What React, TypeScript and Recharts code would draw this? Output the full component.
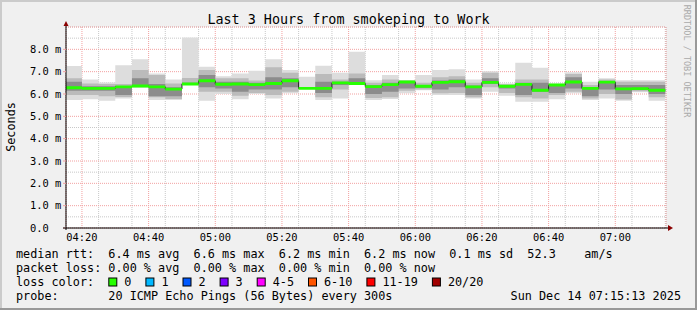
import React from "react";
import { ComposedChart, Area, XAxis, YAxis, CartesianGrid, ReferenceDot } from "recharts";

// 5 minute buckets (start time), 20 pings each
const bucketStart = [
  "04:15", "04:20", "04:25", "04:30", "04:35", "04:40", "04:45", "04:50", "04:55",
  "05:00", "05:05", "05:10", "05:15", "05:20", "05:25", "05:30", "05:35", "05:40",
  "05:45", "05:50", "05:55", "06:00", "06:05", "06:10", "06:15", "06:20", "06:25",
  "06:30", "06:35", "06:40", "06:45", "06:50", "06:55", "07:00", "07:05", "07:10",
];
const windowStart = "04:15:13";
const windowEnd = "07:15:13";
const lastBucketEnd = "07:15";

// rtt in ms
const pingMin = [5.73, 5.76, 5.70, 5.80, 6.28, 5.73, 5.73, 6.42, 5.70, 6.00, 5.76, 6.00, 5.80, 6.03, 6.22, 5.73, 5.80, 6.40, 5.73, 5.78, 6.03, 6.17, 5.95, 5.95, 5.80, 6.10, 5.92, 5.65, 5.65, 5.76, 6.03, 5.73, 5.80, 5.70, 6.08, 5.70];
const ping10 = [5.95, 5.95, 5.90, 5.87, 6.31, 5.85, 5.78, 6.43, 6.10, 6.10, 5.92, 6.05, 5.95, 6.10, 6.23, 5.85, 6.20, 6.43, 5.82, 5.85, 6.15, 6.20, 6.03, 6.05, 5.86, 6.30, 6.05, 5.85, 5.80, 5.95, 6.10, 5.80, 6.00, 5.75, 6.12, 5.85];
const ping25 = [6.15, 6.15, 6.15, 5.95, 6.34, 5.90, 5.90, 6.44, 6.30, 6.25, 6.10, 6.20, 6.20, 6.30, 6.24, 6.05, 6.40, 6.46, 6.00, 6.10, 6.25, 6.28, 6.20, 6.30, 5.95, 6.45, 6.25, 5.95, 6.10, 6.05, 6.25, 5.90, 6.20, 6.00, 6.18, 6.00];
const median = [6.28, 6.25, 6.25, 6.32, 6.36, 6.32, 6.22, 6.45, 6.59, 6.44, 6.45, 6.42, 6.47, 6.59, 6.25, 6.25, 6.50, 6.47, 6.33, 6.42, 6.54, 6.35, 6.52, 6.55, 6.32, 6.52, 6.35, 6.43, 6.17, 6.40, 6.54, 6.25, 6.53, 6.23, 6.24, 6.17];
const ping75 = [6.55, 6.35, 6.35, 6.35, 6.70, 6.45, 6.30, 6.50, 6.85, 6.55, 6.55, 6.50, 6.75, 6.70, 6.27, 6.55, 6.55, 6.70, 6.40, 6.50, 6.57, 6.40, 6.60, 6.65, 6.38, 6.70, 6.40, 6.50, 6.50, 6.43, 6.75, 6.30, 6.58, 6.40, 6.40, 6.40];
const ping90 = [6.70, 6.47, 6.45, 6.45, 7.07, 6.85, 6.47, 6.72, 7.07, 6.70, 6.70, 6.60, 7.20, 6.95, 6.30, 6.90, 6.65, 6.92, 6.50, 6.65, 6.60, 6.50, 6.75, 6.80, 6.50, 6.95, 6.44, 6.65, 6.65, 6.45, 6.90, 6.40, 6.65, 6.55, 6.55, 6.55];
const pingMax = [7.25, 6.65, 6.52, 7.29, 7.56, 6.92, 6.65, 8.53, 7.22, 6.80, 6.92, 7.04, 7.56, 7.07, 6.77, 7.26, 6.95, 7.89, 6.62, 6.85, 6.62, 6.85, 7.07, 7.11, 6.65, 7.02, 6.47, 7.40, 7.17, 6.47, 6.97, 6.55, 6.70, 6.62, 6.62, 6.62];

const xMajorTicks = ["04:20", "04:40", "05:00", "05:20", "05:40", "06:00", "06:20", "06:40", "07:00"];
const xMinorTicks = [
  "04:20", "04:25", "04:30", "04:35", "04:40", "04:45", "04:50", "04:55", "05:00", "05:05",
  "05:10", "05:15", "05:20", "05:25", "05:30", "05:35", "05:40", "05:45", "05:50", "05:55",
  "06:00", "06:05", "06:10", "06:15", "06:20", "06:25", "06:30", "06:35", "06:40", "06:45",
  "06:50", "06:55", "07:00", "07:05", "07:10", "07:15",
];
const yMajorTicks = [0, 1, 2, 3, 4, 5, 6, 7, 8];
const yTickLabels = ["0.0", "1.0 m", "2.0 m", "3.0 m", "4.0 m", "5.0 m", "6.0 m", "7.0 m", "8.0 m"];
const yMinorTicks = [0.5, 1.5, 2.5, 3.5, 4.5, 5.5, 6.5, 7.5, 8.5];
const yMax = 9;

const lossLabels = ["0", "1", "2", "3", "4-5", "6-10", "11-19", "20/20"];
const lossColors = ["#26ff00", "#00b8ff", "#0059ff", "#7e00ff", "#ff00ff", "#ff5500", "#ff0000", "#a10000"];

const legendRows = [
  "median rtt:  6.4 ms avg  6.6 ms max  6.2 ms min  6.2 ms now  0.1 ms sd  52.3    am/s",
  "packet loss: 0.00 % avg  0.00 % max  0.00 % min  0.00 % now",
  "loss color:",
  "probe:       20 ICMP Echo Pings (56 Bytes) every 300s",
];
const stamp = "Sun Dec 14 07:15:13 2025";

const mono = "'DejaVu Sans Mono', monospace";
const charW = 7.1;

const toMin = (s: string) => {
  const [h, m, sec] = s.split(":").map(Number);
  return (h - 4) * 60 + m + (sec || 0) / 60;
};
const fmt = (v: number) => {
  const h = 4 + Math.floor(v / 60);
  const m = Math.round(v % 60);
  return `${String(h).padStart(2, "0")}:${String(m).padStart(2, "0")}`;
};

const halfBand = 0.065;
const rows: any[] = bucketStart.map((s, i) => ({
  t: toMin(s),
  r1: [pingMin[i], pingMax[i]],
  r2: [ping10[i], ping90[i]],
  r3: [ping25[i], ping75[i]],
  med: median[i],
  band: [median[i] - halfBand, median[i] + halfBand],
}));
rows.push({ ...rows[rows.length - 1], t: toMin(lastBucketEnd) });

const t0 = toMin(windowStart);
const t1 = toMin(windowEnd);

const XTick = (p: any) => (
  <text x={p.x} y={p.y + 13} textAnchor="middle" fontFamily={mono} fontSize={10.4} fill="#000">
    {fmt(p.payload.value)}
  </text>
);
const YTick = (p: any) => (
  <text x={30} y={p.y + 3.8} textAnchor="start" fontFamily={mono} fontSize={10.4} fill="#000">
    {yTickLabels[yMajorTicks.indexOf(p.payload.value)]}
  </text>
);
const XArrow = (p: any) => (
  <g>
    <line x1={p.cx} y1={p.cy} x2={p.cx + 2} y2={p.cy} stroke="#000" />
    <polygon points={`${p.cx + 2},${p.cy - 3} ${p.cx + 7},${p.cy} ${p.cx + 2},${p.cy + 3}`} fill="#8b0000" />
  </g>
);
const YArrow = (p: any) => (
  <g>
    <line x1={p.cx} y1={p.cy} x2={p.cx} y2={p.cy - 1} stroke="#000" />
    <polygon points={`${p.cx - 2.5},${p.cy - 1} ${p.cx},${p.cy - 6} ${p.cx + 2.5},${p.cy - 1}`} fill="#8b0000" />
  </g>
);
const OriginStub = (p: any) => (
  <g>
    <line x1={p.cx - 3} y1={p.cy} x2={p.cx} y2={p.cy} stroke="#000" />
    <line x1={p.cx} y1={p.cy} x2={p.cx} y2={p.cy + 2} stroke="#000" />
  </g>
);

function LegendOverlay() {
  const x0 = 16;
  const boxes: any[] = [];
  let bx = x0 + 13 * charW;
  lossLabels.forEach((lab, i) => {
    boxes.push(
      <g key={lab}>
        <rect x={bx + 0.5} y={278} width={8} height={8} fill={lossColors[i]} stroke="#000" />
        <text x={bx + 16} y={286} fontFamily={mono} fontSize={11.8} fill="#000">{lab}</text>
      </g>
    );
    bx += 30 + charW * lab.length;
  });
  return (
    <svg width={697} height={310} style={{ position: "absolute", left: 0, top: 0, pointerEvents: "none" }}>
      <rect x={0} y={0} width={697} height={2} fill="#cbcbcb" />
      <rect x={0} y={0} width={2} height={310} fill="#cbcbcb" />
      <rect x={0} y={308} width={697} height={2} fill="#999" />
      <rect x={695} y={0} width={2} height={310} fill="#999" />
      <text x={348.5} y={24} textAnchor="middle" fontFamily={mono} fontSize={13.4} fill="#000">
        Last 3 Hours from smokeping to Work
      </text>
      <text transform="translate(14.5,127) rotate(-90)" textAnchor="middle" fontFamily={mono} fontSize={11.8} fill="#000">
        Seconds
      </text>
      <text transform="translate(684,61) rotate(90)" textAnchor="middle" fontFamily={mono} fontSize={8.5} fill="#aaa">
        RRDTOOL / TOBI OETIKER
      </text>
      {legendRows.map((r, i) => (
        <text key={i} x={x0} y={258 + 14 * i} fontFamily={mono} fontSize={11.8} fill="#000" style={{ whiteSpace: "pre" }}>
          {r}
        </text>
      ))}
      <text x={681} y={300} textAnchor="end" fontFamily={mono} fontSize={11.8} fill="#000">{stamp}</text>
      {boxes}
    </svg>
  );
}

export default function App() {
  return (
    <div style={{ position: "absolute", left: 0, top: 0, width: 697, height: 310, background: "#f0f0f0" }}>
      <ComposedChart width={697} height={310} data={rows} margin={{ top: 27, right: 31, bottom: 62, left: 10 }}>
        <CartesianGrid fill="#ffffff" horizontal={false} vertical={false} />
        <XAxis
          dataKey="t" type="number" domain={[t0, t1]} allowDataOverflow
          ticks={xMajorTicks.map(toMin)} interval={0} height={20}
          tick={<XTick />} tickLine={false} tickSize={0} tickMargin={0}
          axisLine={{ stroke: "#000" }}
        />
        <XAxis xAxisId="minor" dataKey="t" type="number" domain={[t0, t1]} allowDataOverflow ticks={xMinorTicks.map(toMin)} hide />
        <YAxis
          domain={[0, yMax]} allowDataOverflow ticks={yMajorTicks} interval={0} width={56}
          tick={<YTick />} tickSize={3} tickLine={{ stroke: "#f2a0a0" }}
          axisLine={{ stroke: "#000" }}
        />
        <YAxis yAxisId="minor" domain={[0, yMax]} allowDataOverflow ticks={yMinorTicks} hide />
        <Area dataKey="r1" type="stepAfter" fill="#dddddd" fillOpacity={1} stroke="none" isAnimationActive={false} />
        <Area dataKey="r2" type="stepAfter" fill="#bbbbbb" fillOpacity={1} stroke="none" isAnimationActive={false} />
        <Area dataKey="r3" type="stepAfter" fill="#8c8c8c" fillOpacity={1} stroke="none" isAnimationActive={false} />
        <Area dataKey="med" type="stepAfter" fill="none" stroke="#202020" strokeWidth={1} baseValue={0} isAnimationActive={false} />
        <Area dataKey="band" type="stepAfter" fill={lossColors[0]} fillOpacity={1} stroke="none" isAnimationActive={false} />
        <CartesianGrid xAxisId="minor" yAxisId="minor" stroke="#c8c8c8" strokeDasharray="1 1" />
        <CartesianGrid stroke="#f2a0a0" strokeDasharray="1 1" />
        <ReferenceDot x={t1} y={0} r={0} shape={<XArrow />} ifOverflow="visible" />
        <ReferenceDot x={t0} y={yMax} r={0} shape={<YArrow />} ifOverflow="visible" />
        <ReferenceDot x={t0} y={0} r={0} shape={<OriginStub />} ifOverflow="visible" />
      </ComposedChart>
      <LegendOverlay />
    </div>
  );
}
